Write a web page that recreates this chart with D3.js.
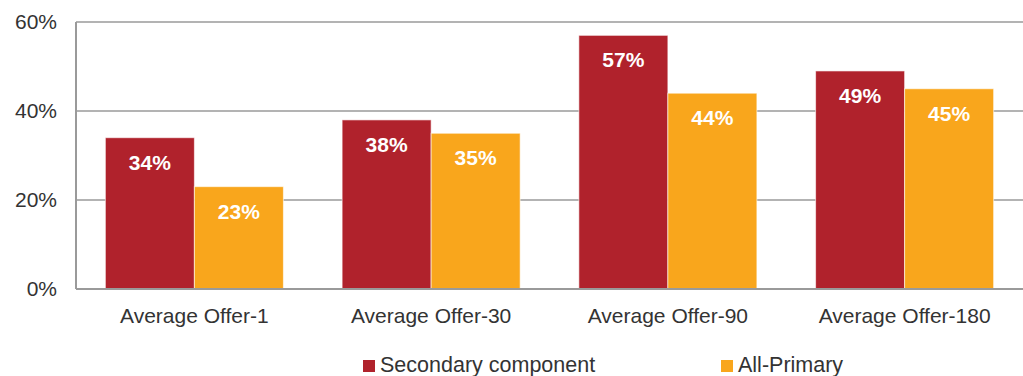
<!doctype html>
<html lang="en">
<head>
<meta charset="utf-8">
<script src="https://d3js.org/d3.v7.min.js"></script>
<style>
  body { margin: 0; background: #fff; }
  svg { display: block; font-family: "Liberation Sans", Arial, sans-serif; }
</style>
</head>
<body>
<svg class="mainSVG" width="1023" height="376"></svg>
<script>
  var categories = ["Average Offer-1", "Average Offer-30", "Average Offer-90", "Average Offer-180"];
  var seriesNames = ["Secondary component", "All-Primary"];
  var secondary = [34, 38, 57, 49];
  var allPrimary = [23, 35, 44, 45];
  var yTicks = [0, 20, 40, 60];
  var colors = ["#B0222C", "#F9A61C"];

  var svg = d3.select(".mainSVG");
  var plotLeft = 76, plotRight = 1023, plotTop = 22, plotBottom = 289;

  var x0 = d3.scaleBand().domain(categories).range([plotLeft, plotRight]).paddingInner(0.248).paddingOuter(0.124);
  var x1 = d3.scaleBand().domain(seriesNames).range([0, x0.bandwidth()]);
  var y = d3.scaleLinear().domain([0, 60]).range([plotBottom, plotTop]);

  // gridlines
  svg.append("g").selectAll("line").data(yTicks.filter(function(d) { return d > 0; })).enter().append("line")
    .attr("x1", plotLeft).attr("x2", plotRight)
    .attr("y1", function(d) { return y(d); }).attr("y2", function(d) { return y(d); })
    .attr("stroke", "#9a9a9a").attr("stroke-width", 1.5);

  // bars
  var rows = categories.map(function(c, i) { return {cat: c, vals: [secondary[i], allPrimary[i]]}; });
  var groups = svg.append("g").selectAll("g").data(rows).enter().append("g")
    .attr("transform", function(d) { return "translate(" + x0(d.cat) + ",0)"; });
  groups.selectAll("rect").data(function(d) { return d.vals.map(function(v, j) { return {s: seriesNames[j], v: v, j: j}; }); })
    .enter().append("rect")
    .attr("x", function(d) { return x1(d.s); })
    .attr("y", function(d) { return y(d.v); })
    .attr("width", x1.bandwidth())
    .attr("height", function(d) { return y(0) - y(d.v); })
    .attr("fill", function(d) { return colors[d.j]; })
    .attr("stroke", "rgba(255,255,255,0.6)").attr("stroke-width", 1);
  groups.selectAll("text").data(function(d) { return d.vals.map(function(v, j) { return {s: seriesNames[j], v: v}; }); })
    .enter().append("text")
    .attr("x", function(d) { return x1(d.s) + x1.bandwidth() / 2; })
    .attr("y", function(d) { return y(d.v) + 32; })
    .attr("text-anchor", "middle")
    .attr("fill", "#fff").attr("font-weight", "bold").attr("font-size", "21px")
    .text(function(d) { return d.v + "%"; });

  // axes lines
  svg.append("line").attr("x1", plotLeft).attr("x2", plotLeft).attr("y1", plotTop).attr("y2", plotBottom)
    .attr("stroke", "#9a9a9a").attr("stroke-width", 2);
  svg.append("line").attr("x1", plotLeft).attr("x2", plotRight).attr("y1", plotBottom).attr("y2", plotBottom)
    .attr("stroke", "#9a9a9a").attr("stroke-width", 2);

  // y tick labels
  svg.append("g").selectAll("text").data(yTicks).enter().append("text")
    .attr("x", 57).attr("y", function(d) { return y(d) + 7; })
    .attr("text-anchor", "end").attr("font-size", "21px").attr("fill", "#333")
    .text(function(d) { return d + "%"; });

  // category labels
  svg.append("g").selectAll("text").data(categories).enter().append("text")
    .attr("x", function(d) { return x0(d) + x0.bandwidth() / 2; }).attr("y", 323)
    .attr("text-anchor", "middle").attr("font-size", "21px").attr("fill", "#333")
    .text(function(d) { return d; });

  // legend
  var legendX = [363, 721];
  var legend = svg.append("g").selectAll("g").data(seriesNames).enter().append("g")
    .attr("transform", function(d, i) { return "translate(" + legendX[i] + ",360)"; });
  legend.append("rect").attr("width", 12).attr("height", 12).attr("fill", function(d, i) { return colors[i]; });
  legend.append("text").attr("x", 17).attr("y", 12).attr("font-size", "21.5px").attr("fill", "#333")
    .text(function(d) { return d; });
</script>
</body>
</html>
